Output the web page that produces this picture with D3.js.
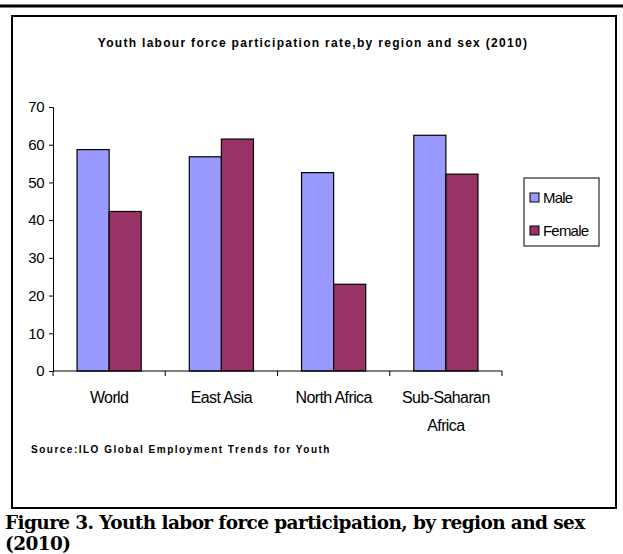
<!DOCTYPE html>
<html>
<head>
<meta charset="utf-8">
<script src="https://cdn.jsdelivr.net/npm/d3@7"></script>
<style>
  body { margin: 0; background: #fff; }
  svg text { font-family: "Liberation Sans", Arial, sans-serif; }
</style>
</head>
<body>
<div class="chart"></div>
<script>
// youth labour force participation
const regions = ['World', 'East Asia', 'North Africa', 'Sub-Saharan Africa'];
const sexes = ['Male', 'Female'];
const male = [58.7, 56.8, 52.6, 62.5];
const female = [42.3, 61.5, 23.0, 52.2];
const yTicks = [0, 10, 20, 30, 40, 50, 60, 70];

const width = 623;
const height = 554;

const svg = d3.select('.chart')
    .append('svg')
    .attr('width', width)
    .attr('height', height);

// top rule + chart frame
svg.append('line')
    .attr('x1', 0).attr('x2', width)
    .attr('y1', 6).attr('y2', 6)
    .attr('stroke', 'black').attr('stroke-width', 3);

svg.append('rect')
    .attr('x', 12).attr('y', 16)
    .attr('width', 604).attr('height', 492)
    .attr('fill', 'none')
    .attr('stroke', 'black').attr('stroke-width', 2);

svg.append('text')
    .attr('x', 313).attr('y', 47)
    .attr('text-anchor', 'middle')
    .style('font-size', '12px')
    .style('font-weight', 'bold')
    .style('letter-spacing', '1.3px')
    .text('Youth labour force participation rate,by region and sex (2010)');

const xScale = d3.scaleBand()
    .domain(regions)
    .range([53, 502]);

const xSub = d3.scaleBand()
    .domain(sexes)
    .range([0, xScale.bandwidth()])
    .paddingOuter(0.75)
    .paddingInner(0);

const yScale = d3.scaleLinear()
    .domain([0, 70])
    .range([371, 107]);

const colorScale = d3.scaleOrdinal()
    .domain(sexes)
    .range(['#9999ff', '#993366']);

const rows = regions.map((r, i) => ({region: r, Male: male[i], Female: female[i]}));

svg.append('g')
    .selectAll('g')
    .data(rows)
    .enter()
    .append('g')
    .attr('transform', d => `translate(${xScale(d.region)},0)`)
    .selectAll('rect')
    .data(d => sexes.map(s => ({sex: s, value: d[s]})))
    .enter()
    .append('rect')
    .attr('x', d => xSub(d.sex))
    .attr('y', d => yScale(d.value))
    .attr('width', xSub.bandwidth())
    .attr('height', d => yScale(0) - yScale(d.value))
    .attr('fill', d => colorScale(d.sex))
    .attr('stroke', 'black')
    .attr('stroke-width', 1.2);

const yAxis = d3.axisLeft(yScale)
    .tickValues(yTicks)
    .tickSize(4)
    .tickPadding(5);

svg.append('g')
    .attr('class', 'axis y-axis')
    .attr('transform', 'translate(53,0)')
    .call(yAxis)
    .call(g => g.selectAll('text')
        .style('font-size', '15px')
        .style('letter-spacing', '-0.5px')
        .attr('fill', 'black'))
    .call(g => g.selectAll('line, path').attr('stroke', 'black'));

const xAxis = d3.axisBottom(xScale)
    .tickSize(0)
    .tickFormat('');

const xg = svg.append('g')
    .attr('class', 'axis x-axis')
    .attr('transform', 'translate(0,371)')
    .call(xAxis)
    .call(g => g.select('.domain').attr('stroke', 'black').attr('d', 'M53,0H502'));

// category boundary ticks
xg.selectAll('.bound')
    .data(d3.range(regions.length + 1))
    .enter()
    .append('line')
    .attr('x1', i => i < regions.length ? xScale(regions[i]) : xScale.range()[1])
    .attr('x2', i => i < regions.length ? xScale(regions[i]) : xScale.range()[1])
    .attr('y1', 0).attr('y2', 5)
    .attr('stroke', 'black');

// category labels, last one wraps
const labelLines = [['World'], ['East Asia'], ['North Africa'], ['Sub-Saharan', 'Africa']];
svg.append('g')
    .selectAll('text')
    .data(regions)
    .enter()
    .append('text')
    .attr('x', d => xScale(d) + xScale.bandwidth() / 2)
    .attr('y', 403)
    .attr('text-anchor', 'middle')
    .style('font-size', '16px')
    .style('letter-spacing', '-0.6px')
    .each(function(d, i) {
        d3.select(this).selectAll('tspan')
            .data(labelLines[i])
            .enter()
            .append('tspan')
            .attr('x', xScale(d) + xScale.bandwidth() / 2)
            .attr('dy', (t, j) => j === 0 ? 0 : 28)
            .text(t => t);
    });

// legend
const legend = svg.append('g').attr('transform', 'translate(524,178)');
legend.append('rect')
    .attr('width', 75).attr('height', 68)
    .attr('fill', 'white').attr('stroke', 'black');
legend.selectAll('.sw')
    .data(sexes)
    .enter()
    .append('rect')
    .attr('x', 6)
    .attr('y', (d, i) => 15 + i * 33)
    .attr('width', 9).attr('height', 9)
    .attr('fill', d => colorScale(d))
    .attr('stroke', 'black');
legend.selectAll('.lbl')
    .data(sexes)
    .enter()
    .append('text')
    .attr('x', 19)
    .attr('y', (d, i) => 25 + i * 33)
    .style('font-size', '15px')
    .style('letter-spacing', '-0.8px')
    .text(d => d);

svg.append('text')
    .attr('x', 31).attr('y', 453)
    .style('font-size', '10px')
    .style('font-weight', 'bold')
    .style('letter-spacing', '1.5px')
    .text('Source:ILO Global Employment Trends for Youth');

// figure caption under the frame
svg.append('text')
    .attr('x', 5).attr('y', 529)
    .style('font-family', '"DejaVu Serif", serif')
    .style('font-size', '18.5px')
    .style('font-weight', 'bold')
    .style('letter-spacing', '-0.6px')
    .text('Figure 3. Youth labor force participation, by region and sex');
svg.append('text')
    .attr('x', 5).attr('y', 550)
    .style('font-family', '"DejaVu Serif", serif')
    .style('font-size', '18.5px')
    .style('font-weight', 'bold')
    .style('letter-spacing', '-0.6px')
    .text('(2010)');
</script>
</body>
</html>
